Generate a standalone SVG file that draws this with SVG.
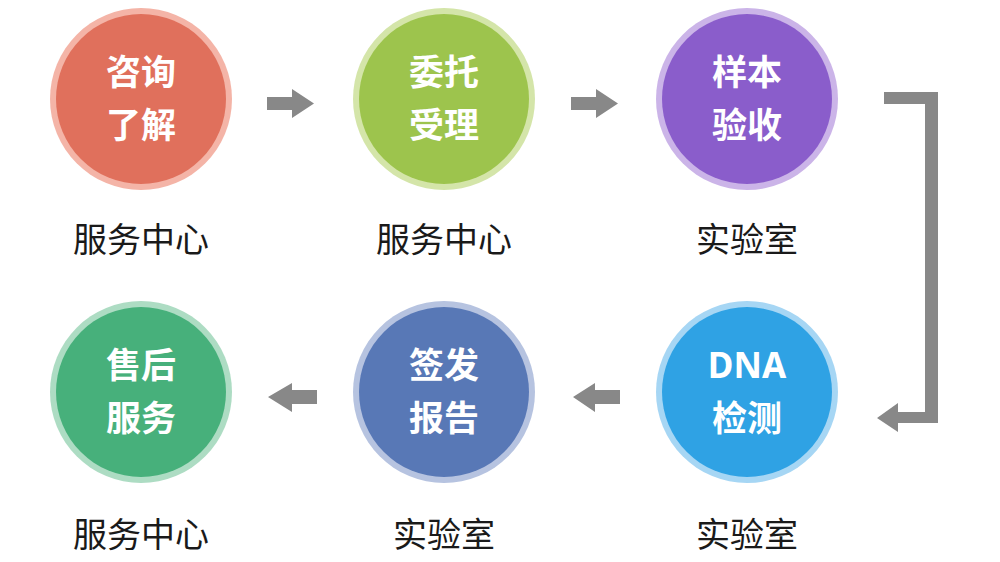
<svg xmlns="http://www.w3.org/2000/svg" width="1000" height="562" viewBox="0 0 1000 562">
<style>
.in{font-family:"Noto Sans CJK SC","Noto Sans",sans-serif;font-weight:700;font-size:35px;fill:#fff;text-anchor:middle}
.lb{font-family:"Noto Sans CJK SC","Noto Sans",sans-serif;font-weight:400;font-size:34px;fill:#1a1a1a;text-anchor:middle}
.ar{fill:#888}
</style>
<rect width="1000" height="562" fill="#fff"/>
<g id="connectors">
<path class="ar" d="M267,97 H292 V89 L314,103.5 L292,118 V110 H267 Z"/>
<path class="ar" d="M571,97 H596 V89 L618,103.5 L596,118 V110 H571 Z"/>
<path class="ar" d="M884,92 H938 V423 H898 V432 L877,418 L898,403 V412 H925 V104 H884 Z"/>
<path class="ar" d="M620,390 H595 V383 L573,397 L595,412 V404 H620 Z"/>
<path class="ar" d="M317,390 H292 V383 L268,397 L292,412 V404 H317 Z"/>
</g>
<g id="n1">
<circle cx="141" cy="99" r="91" fill="#F4B4A7"/>
<circle cx="141" cy="99" r="85" fill="#E0705C"/>
<text class="in" x="141" y="85">咨询</text>
<text class="in" x="141" y="138">了解</text>
<text class="lb" x="141" y="252">服务中心</text>
</g>
<g id="n2">
<circle cx="444" cy="99" r="91" fill="#D4E5A9"/>
<circle cx="444" cy="99" r="85" fill="#9DC44D"/>
<text class="in" x="444" y="85">委托</text>
<text class="in" x="444" y="138">受理</text>
<text class="lb" x="444" y="252">服务中心</text>
</g>
<g id="n3">
<circle cx="747" cy="99" r="91" fill="#CBB4E8"/>
<circle cx="747" cy="99" r="85" fill="#8A5DCB"/>
<text class="in" x="747" y="85">样本</text>
<text class="in" x="747" y="138">验收</text>
<text class="lb" x="747" y="252">实验室</text>
</g>
<g id="n4">
<circle cx="747" cy="392" r="91" fill="#A6D6F4"/>
<circle cx="747" cy="392" r="85" fill="#2FA2E4"/>
<text class="in" x="747" y="378" style="font-family:'Noto Sans',sans-serif">DNA</text>
<text class="in" x="747" y="431">检测</text>
<text class="lb" x="747" y="547">实验室</text>
</g>
<g id="n5">
<circle cx="444" cy="392" r="91" fill="#B6C3E0"/>
<circle cx="444" cy="392" r="85" fill="#5878B6"/>
<text class="in" x="444" y="378">签发</text>
<text class="in" x="444" y="431">报告</text>
<text class="lb" x="444" y="547">实验室</text>
</g>
<g id="n6">
<circle cx="141" cy="392" r="91" fill="#ADDCC3"/>
<circle cx="141" cy="392" r="85" fill="#47B07B"/>
<text class="in" x="141" y="378">售后</text>
<text class="in" x="141" y="431">服务</text>
<text class="lb" x="141" y="547">服务中心</text>
</g>
</svg>
